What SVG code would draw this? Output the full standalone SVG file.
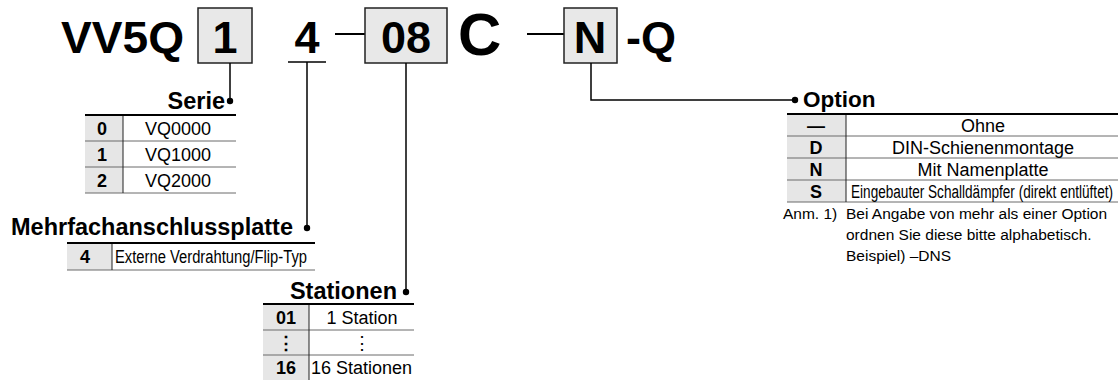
<svg xmlns="http://www.w3.org/2000/svg" width="1118" height="380" viewBox="0 0 1118 380">
<style>
.big{font-family:"Liberation Sans",Arial,sans-serif;font-weight:bold;font-size:45px;fill:#000}
.lbl{font-family:"Liberation Sans",Arial,sans-serif;font-weight:bold;fill:#000}
.k{font-family:"Liberation Sans",Arial,sans-serif;font-weight:bold;font-size:18px;text-anchor:middle;fill:#000}
.v{font-family:"Liberation Sans",Arial,sans-serif;font-size:18px;fill:#000}
.c{text-anchor:middle}
.n{font-family:"Liberation Sans",Arial,sans-serif;font-size:15.5px;fill:#000}
.box{fill:#e8e8e8;stroke:#222;stroke-width:1.5}
.kc{fill:#e6e6e6}
.top{stroke:#000;stroke-width:2}
.sep{stroke:#6a6a6a;stroke-width:1}
.div{stroke:#222;stroke-width:1}
.con{fill:none;stroke:#000;stroke-width:1.5}
</style>
<g id="code">
<text class="big" x="61" y="53" textLength="123" lengthAdjust="spacingAndGlyphs">VV5Q</text>
<rect class="box" x="198" y="8" width="54" height="55"/>
<text class="big" x="225" y="53" text-anchor="middle">1</text>
<text class="big" x="307" y="53" text-anchor="middle">4</text>
<line x1="288" y1="62" x2="326" y2="62" stroke="#000" stroke-width="1.5"/>
<line x1="335" y1="34" x2="365" y2="34" stroke="#000" stroke-width="2"/>
<rect class="box" x="365" y="8" width="82" height="55"/>
<text class="big" x="406" y="53" text-anchor="middle">08</text>
<text class="big" x="458" y="55" style="font-size:60px">C</text>
<line x1="527" y1="34" x2="564" y2="34" stroke="#000" stroke-width="2"/>
<rect class="box" x="564" y="8" width="53" height="55"/>
<text class="big" x="590" y="53" text-anchor="middle">N</text>
<text class="big" x="626" y="53">-Q</text>
</g>
<g id="connectors">
<polyline class="con" points="230,63 230,101"/>
<polyline class="con" points="307,62 307,228"/>
<polyline class="con" points="406,63 406,292"/>
<polyline class="con" points="591,63 591,100 795,100"/>
<circle cx="230" cy="101" r="3.2"/>
<circle cx="307" cy="228" r="3.2"/>
<circle cx="406" cy="292" r="3.2"/>
<circle cx="795" cy="100" r="3.2"/>
</g>
<g id="serie">
<text class="lbl" x="225" y="109" font-size="23.5" text-anchor="end">Serie</text>
<rect class="kc" x="85" y="115" width="38" height="78"/>
<line class="sep" x1="85" y1="141" x2="236" y2="141"/>
<line class="sep" x1="85" y1="167" x2="236" y2="167"/>
<line class="sep" x1="85" y1="193" x2="236" y2="193"/>
<line class="div" x1="123" y1="115" x2="123" y2="193"/>
<line class="top" x1="85" y1="115" x2="236" y2="115"/>
<text class="k" x="102" y="134.5">0</text>
<text class="k" x="102" y="160.5">1</text>
<text class="k" x="102" y="186.5">2</text>
<text class="v c" x="178" y="134.5">VQ0000</text>
<text class="v c" x="178" y="160.5">VQ1000</text>
<text class="v c" x="178" y="186.5">VQ2000</text>
</g>
<g id="mehrfach">
<text class="lbl" x="11" y="235" font-size="23" textLength="282" lengthAdjust="spacingAndGlyphs">Mehrfachanschlussplatte</text>
<rect class="kc" x="67" y="243" width="45" height="27"/>
<line class="sep" x1="67" y1="270" x2="315" y2="270"/>
<line class="div" x1="112" y1="243" x2="112" y2="270"/>
<line class="top" x1="67" y1="243" x2="315" y2="243"/>
<text class="k" x="85" y="263">4</text>
<text class="v" x="115" y="263" font-size="17" textLength="192" lengthAdjust="spacingAndGlyphs">Externe Verdrahtung/Flip-Typ</text>
</g>
<g id="stationen">
<text class="lbl" x="397" y="299" font-size="23.5" text-anchor="end">Stationen</text>
<rect class="kc" x="263" y="304" width="46" height="76"/>
<line class="sep" x1="263" y1="330" x2="414" y2="330"/>
<line class="sep" x1="263" y1="355" x2="414" y2="355"/>
<line class="div" x1="309" y1="304" x2="309" y2="380"/>
<line class="top" x1="263" y1="304" x2="414" y2="304"/>
<text class="k" x="286" y="323.5">01</text>
<text class="k" x="286" y="349">⋮</text>
<text class="k" x="286" y="374">16</text>
<text class="v c" x="362" y="323.5">1 Station</text>
<text class="v c" x="362" y="349">⋮</text>
<text class="v" x="311" y="374">16 Stationen</text>
</g>
<g id="option">
<text class="lbl" x="803" y="107" font-size="22.5">Option</text>
<rect class="kc" x="787" y="114" width="59" height="88"/>
<line class="sep" x1="787" y1="136" x2="1118" y2="136"/>
<line class="sep" x1="787" y1="158" x2="1118" y2="158"/>
<line class="sep" x1="787" y1="180" x2="1118" y2="180"/>
<line class="sep" x1="787" y1="202" x2="1118" y2="202"/>
<line class="div" x1="846" y1="114" x2="846" y2="202"/>
<line class="top" x1="787" y1="114" x2="1118" y2="114"/>
<text class="k" x="816" y="131.5">—</text>
<text class="k" x="816" y="153.5">D</text>
<text class="k" x="816" y="175.5">N</text>
<text class="k" x="816" y="197.5">S</text>
<text class="v c" x="983" y="131.5">Ohne</text>
<text class="v c" x="983" y="153.5">DIN-Schienenmontage</text>
<text class="v c" x="983" y="175.5">Mit Namenplatte</text>
<text class="v" x="851" y="197.5" font-size="17" textLength="262" lengthAdjust="spacingAndGlyphs">Eingebauter Schalldämpfer (direkt entlüftet)</text>
<text class="n" x="783" y="219">Anm. 1)</text>
<text class="n" x="846" y="219">Bei Angabe von mehr als einer Option</text>
<text class="n" x="846" y="240">ordnen Sie diese bitte alphabetisch.</text>
<text class="n" x="846" y="261">Beispiel) –DNS</text>
</g>
</svg>
